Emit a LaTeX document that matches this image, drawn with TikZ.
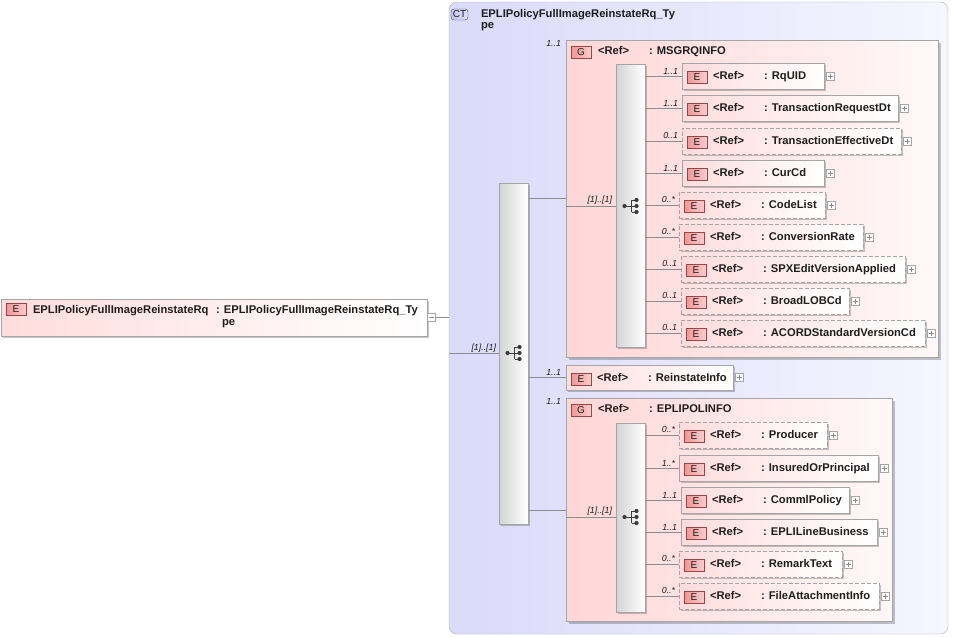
\documentclass[tikz,border=0pt]{standalone}
\usepackage{fontspec}
\setmainfont{Liberation Sans}
\usetikzlibrary{shadows}
\definecolor{txt}{RGB}{30,30,30}
\definecolor{bdr}{RGB}{165,165,165}
\definecolor{lnc}{RGB}{140,140,140}
\definecolor{ctL}{RGB}{218,218,250}
\definecolor{ctR}{RGB}{246,246,255}
\definecolor{ctB}{RGB}{175,175,195}
\definecolor{gL}{RGB}{255,214,214}
\definecolor{gR}{RGB}{255,248,248}
\definecolor{eL}{RGB}{255,220,220}
\definecolor{bdgL}{RGB}{238,150,150}
\definecolor{bdgR}{RGB}{250,205,205}
\definecolor{bdgB}{RGB}{150,70,70}
\definecolor{ctbL}{RGB}{196,196,238}
\definecolor{ctbR}{RGB}{222,222,250}
\definecolor{ctbB}{RGB}{70,70,110}
\definecolor{barL}{RGB}{212,212,212}
\definecolor{icn}{RGB}{60,60,60}
\newcommand\fnt{\fontsize{11.2}{13}\selectfont\bfseries}
\tikzset{
 x=1pt,y=1pt,
 every node/.style={inner sep=0pt,outer sep=0pt},
 lbl/.style={font=\fnt,text=txt,anchor=base west},
 card/.style={font=\fontsize{8.8}{10}\selectfont\itshape,text=txt,anchor=south east},
 conn/.style={draw=lnc,line width=0.8pt},
 shd/.style={drop shadow={shadow xshift=2pt,shadow yshift=-2pt,fill=black,opacity=0.22}},
 ebox/.style={draw=bdr,left color=eL,right color=white,minimum height=26pt,anchor=north west,shd},
 dsh/.style={dash pattern=on 4pt off 2pt},
 gbox/.style={draw=bdr,left color=gL,right color=gR,anchor=north west,drop shadow={shadow xshift=3pt,shadow yshift=-3pt,fill=black,opacity=0.22}},
 seqbar/.style={draw=bdr,left color=barL,right color=white,anchor=north west,minimum width=29pt,shd},
 badge/.style={draw=bdgB,left color=bdgL,right color=bdgR,minimum width=20pt,minimum height=12pt,font=\fontsize{10}{10}\selectfont,text=txt,anchor=west},
 ctbadge/.style={draw=ctbB,left color=ctbL,right color=ctbR,rounded corners=3pt,minimum width=17pt,minimum height=11pt,font=\fontsize{10}{10}\selectfont,text=txt,anchor=west},
 plusb/.style={draw=bdr,fill=white,minimum width=8pt,minimum height=8pt,anchor=west,
   path picture={\draw[lnc] ([xshift=1.5pt]path picture bounding box.west) -- ([xshift=-1.5pt]path picture bounding box.east) ([yshift=-1.5pt]path picture bounding box.north) -- ([yshift=1.5pt]path picture bounding box.south);}},
 minusb/.style={draw=bdr,fill=white,minimum width=8pt,minimum height=8pt,anchor=west,
   path picture={\draw[lnc] ([xshift=1.5pt]path picture bounding box.west) -- ([xshift=-1.5pt]path picture bounding box.east);}},
 seqicon/.pic={
   \draw[icn,line width=1pt] (-6,0) -- (1,0) (1,-6) -- (1,6) (1,6) -- (6,6) (1,-6) -- (6,-6) (1,0) -- (6,0);
   \fill[icn] (-6,0) circle (2.1) (6,6) circle (2.1) (6,0) circle (2.1) (6,-6) circle (2.1);
 }
}
\newcommand\kid[7]{%
 \node[ebox,#5,minimum width=#4pt] (#1) at (#2,-#3) {};
 \node[badge] (#1b) at ([xshift=5pt,yshift=-1.5pt]#1.west) {E};
 \node[lbl] (#1r) at ([xshift=31pt,yshift=-3.5pt]#1.west) {<Ref>};
 \node[lbl] (#1n) at ([xshift=82pt,yshift=-3.5pt]#1.west) {: #6};
 \node[plusb] (#1p) at ([xshift=2pt]#1.east) {};
 \draw[conn] (\curbar.east |- #1.west) -- (#1.west);
 \node[card] (#1c) at ([xshift=-4pt,yshift=2pt]#1.west) {#7};
}
\newcommand\grp[7]{% name x ytop w h title card
 \node[gbox,minimum width=#4pt,minimum height=#5pt] (#1) at (#2,-#3) {};
 \node[badge] (#1b) at ([xshift=5pt,yshift=-12pt]#1.north west) {G};
 \node[lbl] (#1r) at ([xshift=32pt,yshift=-14pt]#1.north west) {<Ref>};
 \node[lbl] (#1n) at ([xshift=83pt,yshift=-14pt]#1.north west) {: #6};
 \node[card] (#1c) at ([xshift=-5pt,yshift=-6pt]#1.north west) {#7};
}
\begin{document}
\begin{tikzpicture}
\useasboundingbox (0,0) rectangle (953,-637);
\fill[white] (0,0) rectangle (953,-637);
% root element
\node[draw=bdr,left color=eL,right color=white,minimum width=426pt,minimum height=37pt,anchor=north west,shd] (root) at (1,-299) {};
\node[badge] (rootb) at (6,-309.5) {E};
\node[lbl] (roott) at (33,-313) {EPLIPolicyFullImageReinstateRq};
\node[lbl] (roott2) at (216,-313) {: EPLIPolicyFullImageReinstateRq\_Ty};
\node[lbl] (roott3) at (222,-325) {pe};
\node[minusb] (rootm) at (root.east) {};
% complex type container
\node[draw=ctB,left color=ctL,right color=ctR,rounded corners=8pt,minimum width=499pt,minimum height=632pt,anchor=north west] (ct) at (449,-2) {};
\node[ctbadge] (ctb) at (451,-14.5) {CT};
\node[lbl] (ctt1) at (481,-17) {EPLIPolicyFullImageReinstateRq\_Ty};
\node[lbl] (ctt2) at (481,-28) {pe};
\draw[conn] (rootm.east) -- (ct.west |- rootm.east);
% outer sequence
\node[seqbar,minimum height=341pt] (ob) at (499,-183) {};
\coordinate (ctin) at ([yshift=-351pt]ct.north west);
\draw[conn] (ctin) -- (ob.west |- ctin);
\node[card] (obc) at ([xshift=-3pt,yshift=1pt]ob.west |- ctin) {[1]..[1]};
\pic at (ob.center |- ctin) {seqicon};
% MSGRQINFO
\grp{msg}{566}{40}{372}{317}{MSGRQINFO}{1..1}
\coordinate (msgo) at ([yshift=-158pt]msg.north west);
\coordinate (msgi) at ([yshift=-166pt]msg.north west);
\draw[conn] (ob.east |- msgo) -- (msgo);
\node[seqbar,minimum height=283pt] (ib1) at (616,-64) {};
\draw[conn] (msgi) -- (ib1.west |- msgi);
\node[card] (ib1c) at ([xshift=-4pt,yshift=2pt]ib1.west |- msgi) {[1]..[1]};
\pic at (ib1.center |- msgi) {seqicon};
\def\curbar{ib1}
\kid{rquid}{682}{63}{142}{solid}{RqUID}{1..1}
\kid{trd}{682}{95}{216}{solid}{TransactionRequestDt}{1..1}
\kid{ted}{682}{128}{219}{dsh}{TransactionEffectiveDt}{0..1}
\kid{cur}{682}{160}{142}{solid}{CurCd}{1..1}
\kid{codel}{679}{192}{146}{dsh}{CodeList}{0..*}
\kid{conv}{679}{224}{184}{dsh}{ConversionRate}{0..*}
\kid{spx}{681}{256}{224}{dsh}{SPXEditVersionApplied}{0..1}
\kid{brd}{681}{288}{168}{dsh}{BroadLOBCd}{0..1}
\kid{acord}{681}{320}{244}{dsh}{ACORDStandardVersionCd}{0..1}
% ReinstateInfo
\def\curbar{ob}
\node[ebox,minimum width=167pt,minimum height=25pt] (rei) at (566,-365) {};
\node[badge] (reib) at ([xshift=5pt,yshift=-1.5pt]rei.west) {E};
\node[lbl] (reir) at ([xshift=31pt,yshift=-3.5pt]rei.west) {<Ref>};
\node[lbl] (rein) at ([xshift=82pt,yshift=-3.5pt]rei.west) {: ReinstateInfo};
\node[plusb] (reip) at ([xshift=2pt]rei.east) {};
\draw[conn] (ob.east |- rei.west) -- (rei.west);
\node[card] (reic) at ([xshift=-5pt,yshift=2pt]rei.west) {1..1};
% EPLIPOLINFO
\grp{epl}{566}{398}{326}{223}{EPLIPOLINFO}{1..1}
\coordinate (eplo) at ([yshift=-112pt]epl.north west);
\coordinate (epli) at ([yshift=-119pt]epl.north west);
\draw[conn] (ob.east |- eplo) -- (eplo);
\node[seqbar,minimum height=189pt] (ib2) at (616,-423) {};
\draw[conn] (epli) -- (ib2.west |- epli);
\node[card] (ib2c) at ([xshift=-4pt,yshift=2pt]ib2.west |- epli) {[1]..[1]};
\pic at (ib2.center |- epli) {seqicon};
\def\curbar{ib2}
\kid{prod}{679}{422}{148}{dsh}{Producer}{0..*}
\kid{ins}{679}{455}{199}{solid}{InsuredOrPrincipal}{1..*}
\kid{comm}{681}{487}{168}{solid}{CommlPolicy}{1..1}
\kid{eline}{681}{519}{196}{solid}{EPLILineBusiness}{1..1}
\kid{rem}{679}{551}{163}{dsh}{RemarkText}{0..*}
\kid{file}{679}{583}{200}{dsh}{FileAttachmentInfo}{0..*}
\end{tikzpicture}
\end{document}
